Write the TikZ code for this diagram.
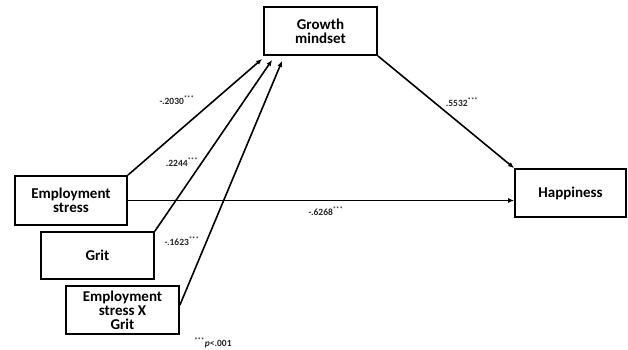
\documentclass[tikz,border=0pt]{standalone}
\usepackage{fontspec}
\setmainfont{Carlito}
\usetikzlibrary{arrows.meta,calc}
\begin{document}
\begin{tikzpicture}[x=1pt,y=-1pt,
  box/.style={draw=black,line width=1.8pt,rectangle,inner sep=0pt,align=center,
    font=\fontsize{15}{14}\selectfont\bfseries},
  conn/.style={line width=1.6pt,-{Latex[length=6pt,width=5pt]}},
  coef/.style={font=\fontsize{9.5}{10}\selectfont\bfseries,text=black!85}]
\useasboundingbox (0,0) rectangle (628,349);
\node[box,minimum width=112pt,minimum height=49pt] (ES) at (71,200.5) {Employment\\stress};
\node[box,minimum width=113pt,minimum height=47pt] (G) at (97.5,255.5) {Grit};
\node[box,minimum width=113pt,minimum height=48pt] (EG) at (122.5,310) {Employment\\stress X\\Grit};
\node[box,minimum width=113pt,minimum height=48pt] (GM) at (320.5,31) {Growth\\mindset};
\node[box,minimum width=111pt,minimum height=48pt] (H) at (570.5,193) {Happiness};
\draw[conn] (ES.north east) -- ($(GM.south west)+(-1,3)$);
\draw[conn] (G.north east) -- ($(GM.south west)+(9,4)$);
\draw[conn] ($(EG.east)+(0,-5)$) -- ($(GM.south west)+(19,5)$);
\draw[conn] (GM.south east) -- (H.north west);
\draw[conn] (ES.east) -- (H.west |- ES.east);
\node[coef] (l1) at (177,100) {-.2030\textsuperscript{***}};
\node[coef] (l2) at (182,162) {.2244\textsuperscript{***}};
\node[coef] (l3) at (182,241) {-.1623\textsuperscript{***}};
\node[coef] (l4) at (462,102) {.5532\textsuperscript{***}};
\node[coef] (l5) at (326,211) {-.6268\textsuperscript{***}};
\node[coef] (fn) at (213,343) {\textsuperscript{***}\textit{p}<.001};
\end{tikzpicture}
\end{document}
